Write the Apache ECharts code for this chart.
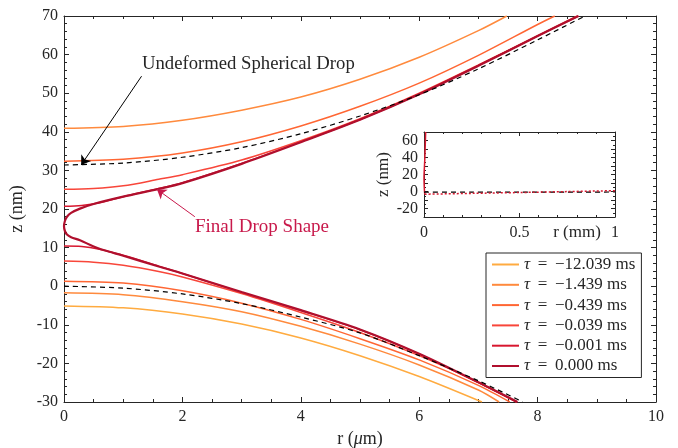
<!DOCTYPE html>
<html>
<head>
<meta charset="utf-8">
<script src="https://cdn.jsdelivr.net/npm/echarts@6/dist/echarts.min.js"></script>
<style>
  html, body { margin: 0; padding: 0; background: #fff; }
  #main { width: 678px; height: 448px; }
</style>
</head>
<body>
<div id="main"></div>
<script>
// legend names, one per time step
const tauNames = ['τ = −12.039 ms', 'τ = −1.439 ms', 'τ = −0.439 ms', 'τ = −0.039 ms', 'τ = −0.001 ms', 'τ = 0.000 ms']
const tauColors = ['#FFAB40', '#FF8A3D', '#FF6633', '#F8463A', '#D8172F', '#B00F2D']

// upper film surface, [r (um), z (nm)]
const upper2 = [[0, 40.9], [1, 41.4], [2, 43.0], [3, 45.6], [4, 49.0], [5, 53.6], [6, 59.3], [7, 66.2], [7.48, 70]]
const upper3 = [[0, 32.4], [1, 32.9], [2, 34.5], [3, 37.4], [4, 41.5], [5, 46.6], [6, 52.6], [7, 59.8], [8, 67.8], [8.29, 70]]
const upper4 = [[0, 25.1], [0.5, 25.3], [1, 26.0], [1.6, 27.7], [2, 28.9], [3, 32.7], [4, 37.7], [5, 43.4], [6, 50.0], [7, 57.3], [8, 64.9], [8.67, 70]]
const upper5 = [[0, 20.7], [0.3, 20.9], [0.6, 21.6], [1, 23.2], [1.6, 25.3], [2, 26.8], [3, 31.8], [4, 37.4], [5, 43.2], [6, 49.8], [7, 57.2], [8, 64.8], [8.69, 70]]

// lower film surface
const lower1 = [[0, -5.1], [1, -5.6], [2, -7.2], [3, -9.8], [4, -13.4], [5, -18.0], [6, -23.4], [7.06, -30]]
const lower2 = [[0, -1.7], [1, -2.2], [2, -4.0], [3, -6.6], [4, -10.4], [5, -15.0], [6, -20.4], [7, -26.9], [7.35, -30]]
const lower3 = [[0, 1.3], [1, 0.8], [2, -1.2], [3, -4.4], [4, -8.6], [5, -13.6], [6, -19.1], [7, -25.7], [7.53, -30]]
const lower4 = [[0, 6.5], [0.5, 6.2], [1, 5.4], [1.6, 3.8], [2, 2.4], [3, -1.9], [4, -6.8], [5, -12.0], [6, -18.0], [7, -24.9], [7.64, -30]]
const lower5 = [[0, 10.4], [0.3, 10.3], [0.6, 9.6], [1, 8.0], [1.6, 5.2], [2, 3.3], [3, -1.6], [4, -6.3], [5, -11.3], [6, -17.6], [7, -25.0], [7.65, -30]]

// final drop shape, one path round the nose
const finalShape = [[8.69, 70], [8, 64.8], [7, 57.1], [6, 49.7], [5, 43.1], [4, 37.3], [3, 31.7], [2, 26.7], [1.6, 25.2],
  [1, 23.2], [0.5, 21.3], [0.27, 20.1], [0.12, 19.0], [0.05, 18.0], [0.015, 16.9], [0, 15.5], [0.015, 14.3],
  [0.05, 13.4], [0.12, 12.7], [0.27, 11.9], [0.5, 10.3], [0.68, 9.3], [1, 7.9], [1.6, 5.1], [2, 3.3], [3, -1.5],
  [4, -6.2], [5, -11.2], [6, -17.5], [7, -24.9], [7.66, -30]]

// undeformed spherical drop
const sphereUpper = [[0, 31.4], [1, 31.9], [2, 33.4], [3, 35.9], [4, 39.5], [5, 44.1], [6, 49.6], [7, 56.3], [8, 63.8], [8.8, 70]]
const sphereLower = [[0, 0], [1, -0.5], [2, -2.0], [3, -4.5], [4, -8.0], [5, -12.1], [6, -18.0], [7, -24.5], [7.75, -30]]

// inset, r in mm
const insetFinalUp = [[0.0087, 70], [0.004, 37], [0, 15.5], [0.002, 2], [0.004, -3.2]]
const insetFinalFlat = [[0.004, -3.2], [0.25, -2.2], [0.5, -1.2], [0.75, -0.1], [1, 1.0]]
const insetSphere = [[0, -0.8], [0.25, -0.8], [0.5, -0.7], [0.75, -0.7], [1, -0.6]]

// arrows, [from, to] in data coords
const arrowSphere = [[1.31, 54.4], [0.29, 31.4]]
const arrowFinal = [[2.21, 18.0], [1.57, 25.1]]

const FONT = "'Liberation Serif', 'Times New Roman', serif"
const INK = '#262626'
const CRIMSON = '#C8194B'

const chart = echarts.init(document.getElementById('main'))

function curve(name, data, color, width, xi, yi) {
  return {
    name: name,
    type: 'line',
    data: data,
    xAxisIndex: xi || 0,
    yAxisIndex: yi || 0,
    showSymbol: false,
    smooth: 0.3,
    lineStyle: { color: color, width: width },
    itemStyle: { color: color },
    emphasis: { disabled: true }
  }
}

function arrow(pair, color) {
  return {
    silent: true,
    symbol: ['none', 'arrow'],
    symbolSize: 9,
    label: { show: false },
    lineStyle: { color: color, width: 1, type: 'solid' },
    emphasis: { disabled: true },
    data: [[{ coord: pair[0] }, { coord: pair[1] }]]
  }
}

function boxAxis(extra) {
  return Object.assign({
    type: 'value',
    axisLine: { show: true, onZero: false, lineStyle: { color: INK, width: 1 } },
    axisTick: { show: true, inside: true, length: 5, lineStyle: { color: INK } },
    minorTick: { show: true, length: 3, lineStyle: { color: INK } },
    splitLine: { show: false },
    axisLabel: { color: INK, fontFamily: FONT, fontSize: 16 }
  }, extra)
}

const series = []
series.push(curve(tauNames[0], lower1, tauColors[0], 1.5))
series.push(curve(tauNames[1], upper2, tauColors[1], 1.5))
series.push(curve(tauNames[1], lower2, tauColors[1], 1.5))
series.push(curve(tauNames[2], upper3, tauColors[2], 1.5))
series.push(curve(tauNames[2], lower3, tauColors[2], 1.5))
series.push(curve(tauNames[3], upper4, tauColors[3], 1.5))
series.push(curve(tauNames[3], lower4, tauColors[3], 1.5))
series.push(curve(tauNames[4], upper5, tauColors[4], 1.5))
series.push(curve(tauNames[4], lower5, tauColors[4], 1.5))
const fin = curve(tauNames[5], finalShape, tauColors[5], 2.2)
fin.markLine = arrow(arrowFinal, CRIMSON)
series.push(fin)
const sphUp = curve('sphere', sphereUpper, '#000', 1.2)
sphUp.lineStyle.type = [5, 4]
sphUp.markLine = arrow(arrowSphere, '#000')
series.push(sphUp)
const sphLo = curve('sphere', sphereLower, '#000', 1.2)
sphLo.lineStyle.type = [5, 4]
series.push(sphLo)

// inset
series.push(curve(tauNames[5], insetFinalUp, tauColors[4], 1.5, 2, 2))
const insDash = curve('sphere', insetSphere, '#000', 1.2, 2, 2)
insDash.lineStyle.type = [5, 4]
series.push(insDash)
const insFlat = curve(tauNames[5], insetFinalFlat, tauColors[4], 1.5, 2, 2)
insFlat.lineStyle.type = [2, 2]
series.push(insFlat)

const option = {
  animation: false,
  backgroundColor: '#fff',
  grid: [
    { left: 64, right: 22, top: 16, bottom: 46, outerBoundsMode: 'none', containLabel: false },
    { left: 424, top: 132, width: 191, height: 85, show: true, backgroundColor: '#fff', borderWidth: 0, outerBoundsMode: 'none', containLabel: false }
  ],
  legend: {
    data: tauNames,
    orient: 'vertical',
    left: 486,
    top: 253,
    icon: 'rect',
    itemWidth: 27,
    itemHeight: 2,
    itemGap: 3.3,
    padding: [3, 6, 3, 6],
    borderColor: INK,
    borderWidth: 1,
    backgroundColor: '#fff',
    selectedMode: false,
    formatter: function (name) {
      return '{i|τ}{n|' + name.slice(1).replace(' = ', '\u2009 = \u2009') + '}'
    },
    textStyle: {
      color: INK, fontFamily: FONT, fontSize: 17, lineHeight: 16,
      rich: {
        i: { fontStyle: 'italic', fontFamily: FONT, fontSize: 17, color: INK },
        n: { fontFamily: FONT, fontSize: 17, color: INK }
      }
    }
  },
  xAxis: [
    boxAxis({
      gridIndex: 0, position: 'bottom', min: 0, max: 10, interval: 2,
      minorTick: { show: true, splitNumber: 4, length: 3, lineStyle: { color: INK } },
      axisLabel: { color: INK, fontFamily: FONT, fontSize: 16, margin: 7 },
      name: 'r ({i|μ}m)', nameLocation: 'middle', nameGap: 27,
      nameTextStyle: {
        color: INK, fontFamily: FONT, fontSize: 18,
        rich: { i: { fontStyle: 'italic', fontFamily: FONT, fontSize: 18, color: INK } }
      }
    }),
    boxAxis({
      gridIndex: 0, position: 'top', min: 0, max: 10, interval: 2,
      minorTick: { show: true, splitNumber: 4, length: 3, lineStyle: { color: INK } },
      axisLabel: { show: false }
    }),
    boxAxis({
      gridIndex: 1, position: 'bottom', min: 0, max: 1, interval: 0.5,
      minorTick: { show: true, splitNumber: 5, length: 2, lineStyle: { color: INK } },
      axisTick: { show: true, inside: true, length: 4, lineStyle: { color: INK } },
      axisLabel: { color: INK, fontFamily: FONT, fontSize: 16, margin: 8 }
    }),
    boxAxis({
      gridIndex: 1, position: 'top', min: 0, max: 1, interval: 0.5,
      minorTick: { show: true, splitNumber: 5, length: 2, lineStyle: { color: INK } },
      axisTick: { show: true, inside: true, length: 4, lineStyle: { color: INK } },
      axisLabel: { show: false }
    })
  ],
  yAxis: [
    boxAxis({
      gridIndex: 0, position: 'left', min: -30, max: 70, interval: 10,
      minorTick: { show: true, splitNumber: 5, length: 3, lineStyle: { color: INK } },
      axisLabel: { color: INK, fontFamily: FONT, fontSize: 16, margin: 6 },
      name: 'z (nm)', nameLocation: 'middle', nameGap: 32, nameRotate: 90,
      nameTextStyle: { color: INK, fontFamily: FONT, fontSize: 18 }
    }),
    boxAxis({
      gridIndex: 0, position: 'right', min: -30, max: 70, interval: 10,
      minorTick: { show: true, splitNumber: 5, length: 3, lineStyle: { color: INK } },
      axisLabel: { show: false }
    }),
    boxAxis({
      gridIndex: 1, position: 'left', min: -30, max: 70, interval: 10,
      minorTick: { show: true, splitNumber: 2, length: 2, lineStyle: { color: INK } },
      axisTick: { show: true, inside: true, length: 4, lineStyle: { color: INK } },
      axisLabel: {
        color: INK, fontFamily: FONT, fontSize: 16, margin: 6,
        formatter: function (v) { return v % 20 === 0 ? String(v) : '' }
      },
      name: 'z (nm)', nameLocation: 'middle', nameGap: 32, nameRotate: 90,
      nameTextStyle: { color: INK, fontFamily: FONT, fontSize: 17 }
    }),
    boxAxis({
      gridIndex: 1, position: 'right', min: -30, max: 70, interval: 10,
      minorTick: { show: true, splitNumber: 2, length: 2, lineStyle: { color: INK } },
      axisTick: { show: true, inside: true, length: 4, lineStyle: { color: INK } },
      axisLabel: { show: false }
    })
  ],
  graphic: [
    { type: 'text', x: 142, y: 64, style: { text: 'Undeformed Spherical Drop', font: '18.7px ' + FONT, fill: INK, verticalAlign: 'middle' } },
    { type: 'text', x: 195, y: 227, style: { text: 'Final Drop Shape', font: '19px ' + FONT, fill: CRIMSON, verticalAlign: 'middle' } },
    { type: 'text', x: 577, y: 233, style: { text: 'r (mm)', font: '17px ' + FONT, fill: INK, align: 'center', verticalAlign: 'middle' } }
  ],
  series: series
}

chart.setOption(option)
</script>
</body>
</html>
